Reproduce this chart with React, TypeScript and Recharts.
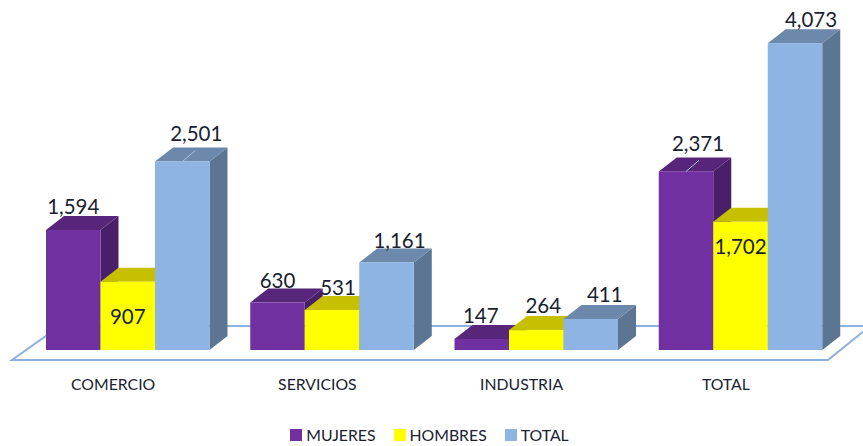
import { BarChart, Bar, XAxis, YAxis, Legend, LabelList, usePlotArea } from 'recharts';

const categories = ['COMERCIO', 'SERVICIOS', 'INDUSTRIA', 'TOTAL'];
const mujeres = [1594, 630, 147, 2371];
const hombres = [907, 531, 264, 1702];
const totales = [2501, 1161, 411, 4073];

const chartData = categories.map((name, i) => ({
  name,
  mujeres: mujeres[i],
  hombres: hombres[i],
  total: totales[i],
}));

const FONT = 'Lato, "Open Sans", sans-serif';
const TEXT = '#1a2230';
const DEPTH_X = 18;
const DEPTH_Y = 14;

const seriesList = [
  { key: 'mujeres', label: 'MUJERES', front: '#7030a0', top: '#572579', side: '#4a1f69' },
  { key: 'hombres', label: 'HOMBRES', front: '#ffff00', top: '#c6c000', side: '#a8a300' },
  { key: 'total', label: 'TOTAL', front: '#8db4e2', top: '#6c88ab', side: '#5c7592' },
];

// label nudges from the top centre of the front face, per series and category
const labelNudge: Record<string, [number, number][]> = {
  mujeres: [[0, -24], [0, -23], [-1, -24], [12, -28]],
  hombres: [[0, 0], [6, -23], [7, -25], [0, 24]],
  total: [[14, -29], [13, -23], [14, -25], [16, -24]],
};
const labelCentered = [907];
const leaderValues = [2501, 2371];

function Box3D(props: any) {
  const { x, y, width, height, front, top, side } = props;
  const dx = DEPTH_X;
  const dy = DEPTH_Y;
  return (
    <g>
      <polygon
        points={`${x + width},${y} ${x + width + dx},${y - dy} ${x + width + dx},${y + height - dy} ${x + width},${y + height}`}
        fill={side}
      />
      <polygon
        points={`${x},${y} ${x + dx},${y - dy} ${x + width + dx},${y - dy} ${x + width},${y}`}
        fill={top}
      />
      <rect x={x} y={y} width={width} height={height} fill={front} />
    </g>
  );
}

function ValueLabel(props: any) {
  const { x, y, width, height, value, index, seriesKey } = props;
  const [nx, ny] = labelNudge[seriesKey][index];
  const cx = x + width / 2;
  const cy = labelCentered.includes(value) ? y + height / 2 : y + ny;
  return (
    <g>
      {leaderValues.includes(value) && (
        <line x1={cx} y1={y} x2={cx + 13} y2={y - 11} stroke="#a9c1e0" strokeWidth={1} />
      )}
      <text
        x={cx + nx}
        y={cy}
        textAnchor="middle"
        dominantBaseline="central"
        fontFamily={FONT}
        fontSize={20.5}
        fill={TEXT}
      >
        {value.toLocaleString('en-US')}
      </text>
    </g>
  );
}

function Floor() {
  const plot = usePlotArea();
  if (!plot) return null;
  const left = plot.x;
  const right = plot.x + plot.width;
  const bottom = plot.y + plot.height;
  return (
    <polygon
      points={`${left - 14},${bottom + 10} ${right - 15},${bottom + 10} ${right + 27},${bottom - 24} ${left + 34},${bottom - 24}`}
      fill="#ffffff"
      stroke="#8db0dc"
      strokeWidth={2}
    />
  );
}

function CategoryTick(props: any) {
  const { x, y, payload } = props;
  return (
    <text
      x={x - 15}
      y={y + 25}
      textAnchor="middle"
      dominantBaseline="central"
      fontFamily={FONT}
      fontSize={15.8}
      fill={TEXT}
    >
      {payload.value}
    </text>
  );
}

function LegendRow() {
  return (
    <div
      style={{
        display: 'flex',
        justifyContent: 'center',
        gap: 18,
        fontFamily: FONT,
        fontSize: 15.8,
        lineHeight: '22px',
        color: TEXT,
        paddingRight: 10,
      }}
    >
      {seriesList.map(s => (
        <span key={s.key} style={{ display: 'flex', alignItems: 'center', gap: 4 }}>
          <span style={{ width: 12, height: 12, background: s.front, display: 'inline-block' }} />
          {s.label}
        </span>
      ))}
    </div>
  );
}

export default function App() {
  return (
    <div style={{ position: 'absolute', left: 0, top: 0 }}>
      <BarChart
        width={863}
        height={446}
        data={chartData}
        margin={{ top: 11, right: 20, left: 26, bottom: 0 }}
        barSize={54.5}
        barGap={0}
      >
        <Floor />
        <XAxis
          dataKey="name"
          height={74}
          axisLine={false}
          tickLine={false}
          interval={0}
          tick={<CategoryTick />}
        />
        <YAxis hide domain={[0, 4500]} />
        {seriesList.map(s => (
          <Bar
            key={s.key}
            dataKey={s.key}
            isAnimationActive={false}
            shape={(p: any) => <Box3D {...p} front={s.front} top={s.top} side={s.side} />}
          >
            <LabelList
              dataKey={s.key}
              content={(p: any) => <ValueLabel {...p} seriesKey={s.key} />}
            />
          </Bar>
        ))}
        <Legend verticalAlign="bottom" height={22} content={<LegendRow />} />
      </BarChart>
    </div>
  );
}
